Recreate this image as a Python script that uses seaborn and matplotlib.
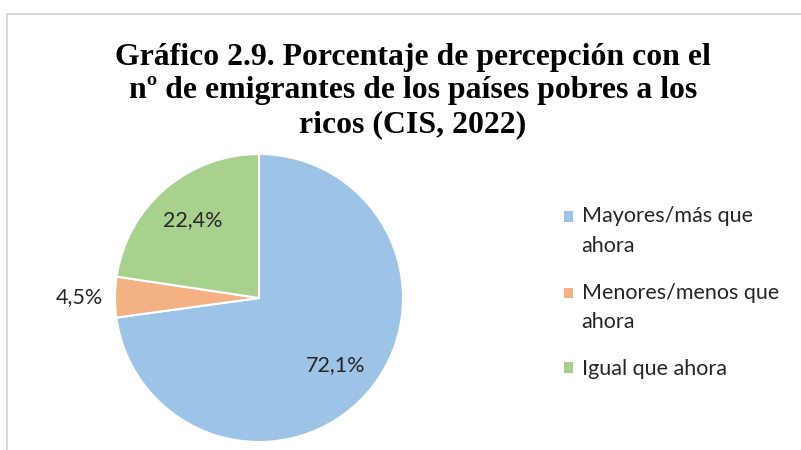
import matplotlib.pyplot as plt
from matplotlib.lines import Line2D
from matplotlib.patches import Rectangle
from matplotlib.legend_handler import HandlerPatch
import seaborn as sns

# data
categories = ["Mayores/más que\nahora", "Menores/menos que\nahora", "Igual que ahora"]
values = [72.1, 4.5, 22.4]
labels = ["72,1%", "4,5%", "22,4%"]
colors = ["#9DC3E6", "#F4B183", "#A9D18E"]
title = "Gráfico 2.9. Porcentaje de percepción con el\nnº de emigrantes de los países pobres a los\nricos (CIS, 2022)"

sns.set_style("white")
plt.rcParams['font.family'] = ['Lato', 'DejaVu Sans']

fig = plt.figure(figsize=(8.01, 4.5), dpi=100)

# pie axes: centre ~ (259, 298) px, radius ~144 px
ax = fig.add_axes([115 / 801, 8 / 450, 288 / 801, 288 / 450])
wedges, texts, autotexts = ax.pie(
    values,
    colors=colors,
    startangle=90,
    counterclock=False,
    autopct="%1.1f%%",
    pctdistance=0.71,
    wedgeprops=dict(edgecolor="white", linewidth=1.5),
    textprops=dict(fontsize=15.5, color="#262626"),
)
for t, lab in zip(autotexts, labels):
    t.set_text(lab)
# small slice label sits outside
x, y = autotexts[1].get_position()
autotexts[1].set_position((x / 0.71 * 1.25, y / 0.71 * 1.25))
ax.set_xlim(-1, 1)
ax.set_ylim(-1, 1)
ax.set_aspect("equal")
ax.axis("off")

fig.text(413 / 801, 1 - 43 / 450, title, ha="center", va="top",
         fontsize=22.9, fontweight="bold", family="Liberation Serif",
         linespacing=1.2, color="black")


# legend squares sit next to the first line of a wrapped label
class TopSquare(HandlerPatch):
    def __init__(self, dy):
        super().__init__()
        self.dy = dy

    def create_artists(self, legend, orig_handle, xdescent, ydescent, width, height, fontsize, trans):
        p = Rectangle((-xdescent, -ydescent + self.dy), width, height,
                      facecolor=orig_handle.get_facecolor(), edgecolor="none")
        p.set_transform(trans)
        return [p]


hmap = {w: TopSquare(10.5 if "\n" in c else 0) for w, c in zip(wedges, categories)}
leg = fig.legend(wedges, categories, loc="upper left",
                 bbox_to_anchor=(564 / 801, 1 - 206 / 450),
                 frameon=False, fontsize=15.5, handlelength=0.4, handleheight=0.4,
                 handletextpad=0.42, labelspacing=1.25, borderpad=0, borderaxespad=0,
                 labelcolor="#262626", handler_map=hmap)
for t in leg.get_texts():
    t.set_linespacing(1.6)

# chart frame (only left and top edges visible)
fig.add_artist(Line2D([7 / 801, 7 / 801], [0, 1 - 14 / 450], color="#d9d9d9", lw=1.5,
                      transform=fig.transFigure))
fig.add_artist(Line2D([7 / 801, 1], [1 - 14 / 450, 1 - 14 / 450], color="#d9d9d9", lw=1.5,
                      transform=fig.transFigure))

fig.savefig("out.png", dpi=100, facecolor="white")
